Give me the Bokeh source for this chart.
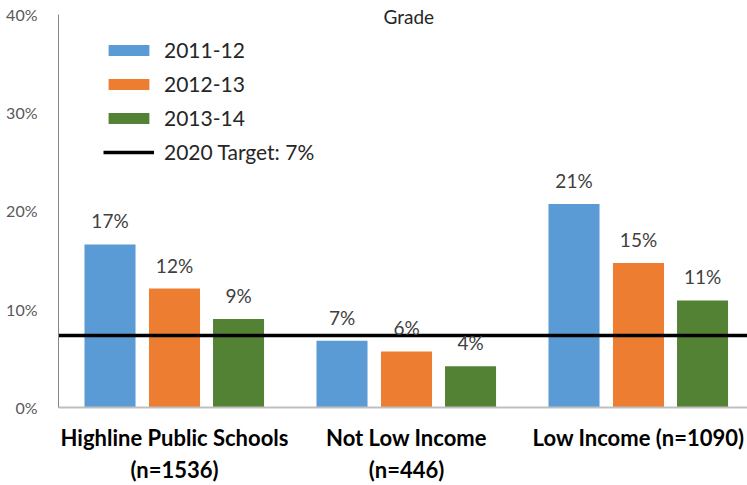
from bokeh.plotting import figure
from bokeh.models import (ColumnDataSource, Range1d, FixedTicker, NumeralTickFormatter,
                          LabelSet, Label, Legend, LegendItem)
from bokeh.core.properties import value
from bokeh.embed import file_html
from bokeh.resources import INLINE

# ---- data ----
groups = ["Highline Public Schools\n(n=1536)", "Not Low Income\n(n=446)", "Low Income (n=1090)"]
years = ["2011-12", "2012-13", "2013-14"]
v_2011 = [0.166, 0.068, 0.207]
v_2012 = [0.121, 0.057, 0.147]
v_2013 = [0.090, 0.042, 0.109]
target = 0.0734
target_label = "2020 Target: 7%"
y_ticks = [0.0, 0.1, 0.2, 0.3, 0.4]
title_text = "Grade"

colors = ["#5B9BD5", "#ED7D31", "#548235"]
offsets = [-0.278, 0.0, 0.276]
bar_w = 0.22
FONT = "Lato"
Y_MAX = 0.4

p = figure(width=747, height=485,
           x_range=Range1d(0, 689 / 232), y_range=Range1d(0, Y_MAX * (408 / 394)),
           output_backend="svg", toolbar_location=None,
           min_border_left=58, min_border_right=0, min_border_top=0, min_border_bottom=77)
p.outline_line_color = None
p.xgrid.grid_line_color = None
p.ygrid.grid_line_color = None

centers = [i + 0.5 for i in range(len(groups))]
renderers = []
for vals, col, off, yr in zip([v_2011, v_2012, v_2013], colors, offsets, years):
    src = ColumnDataSource(dict(x=[c + off for c in centers], top=vals,
                                lab=[f"{round(v * 100)}%" for v in vals]))
    r = p.vbar(x="x", top="top", width=bar_w, bottom=0, source=src,
               fill_color=col, line_color=None)
    renderers.append((yr, r))
    p.add_layout(LabelSet(x="x", y="top", text="lab", source=src, text_align="center",
                          text_baseline="alphabetic", y_offset=16, text_font=value(FONT),
                          text_font_size=value("19px"), text_color=value("#404040")))

tr = p.hspan(y=[target], line_color="black", line_width=3.5)

legend = Legend(items=[LegendItem(label=yr, renderers=[r]) for yr, r in renderers]
                + [LegendItem(label=target_label, renderers=[tr])],
                location=(45, 243), orientation="vertical",
                glyph_width=51, glyph_height=14, label_standoff=10,
                label_text_font=FONT, label_text_font_size="21px", label_text_color="#262626",
                spacing=9, padding=0, margin=0, border_line_color=None,
                background_fill_alpha=0)
p.add_layout(legend)

# axes
p.yaxis.ticker = FixedTicker(ticks=y_ticks)
p.yaxis.bounds = (0, Y_MAX)
p.yaxis.formatter = NumeralTickFormatter(format="0%")
p.yaxis.major_tick_line_color = None
p.yaxis.minor_tick_line_color = None
p.yaxis.axis_line_color = "#868686"
p.yaxis.major_label_text_font = FONT
p.yaxis.major_label_text_font_size = "16px"
p.yaxis.major_label_text_color = "#595959"
p.yaxis.major_label_standoff = 15

p.xaxis.ticker = FixedTicker(ticks=centers)
p.xaxis.major_label_overrides = {c: g for c, g in zip(centers, groups)}
p.xaxis.major_tick_line_color = None
p.xaxis.minor_tick_line_color = None
p.xaxis.axis_line_color = "#BFBFBF"
p.xaxis.axis_line_width = 2
p.xaxis.major_label_text_font = FONT
p.xaxis.major_label_text_font_style = "bold"
p.xaxis.major_label_text_font_size = "22px"
p.xaxis.major_label_text_color = "#000000"
p.xaxis.major_label_standoff = 10

p.add_layout(Label(x=1.51, y=Y_MAX - 0.002, text=title_text, text_align="center",
                   text_baseline="alphabetic", text_font=FONT, text_font_size="19px",
                   text_color="#262626"))

open("out.html", "w").write(file_html(p, INLINE))
